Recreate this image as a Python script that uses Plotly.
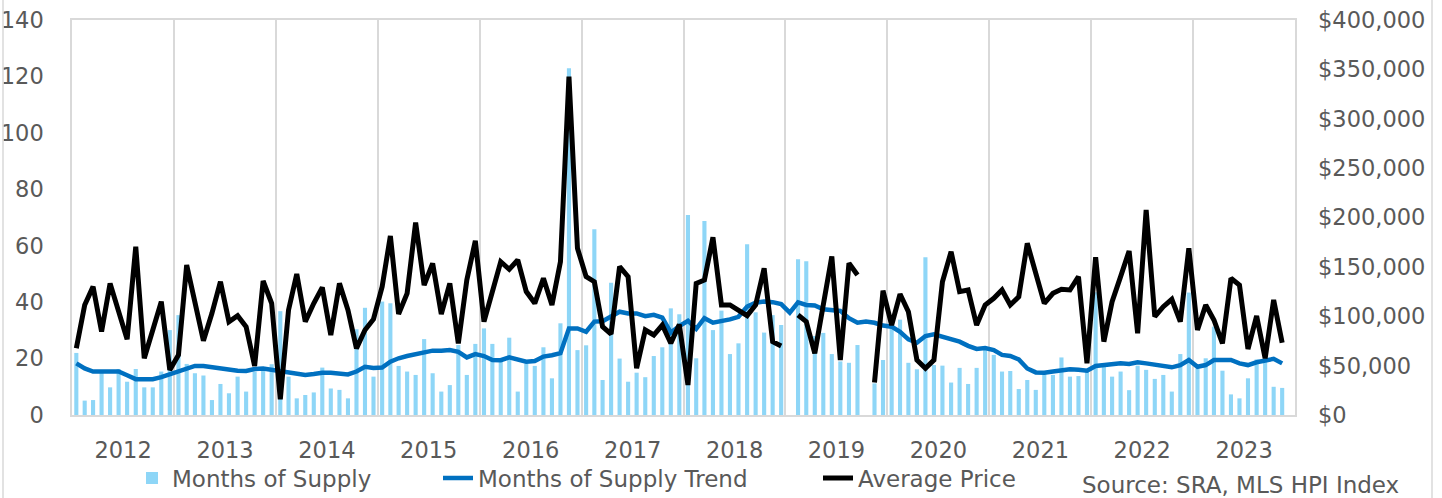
import plotly.graph_objects as go

# Monthly categories Jan 2012 .. Dec 2023
months = [f"{y}-{m:02d}-01" for y in range(2012, 2024) for m in range(1, 13)]

months_of_supply = [
    22, 5.1, 5.3, 15, 9.8, 16.3, 11.8, 16.3, 9.8, 9.8, 15.4, 30.1,
    35.4, 18.1, 14.8, 14, 5.3, 11, 7.7, 13.6, 8.3, 15.4, 16, 18,
    36.8, 13.6, 5.9, 7.1, 8.0, 16.8, 9.4, 8.9, 5.9, 30.4, 38.0, 13.6,
    40.2, 39.6, 17.4, 15.4, 14.2, 26.9, 14.8, 8.3, 10.6, 24.8, 14.2, 25.2,
    30.7, 25.2, 19, 27.4, 8.3, 18.3, 17.4, 24, 13, 32.5, 122.9, 23,
    24.7, 65.8, 12.4, 46.9, 20, 11.8, 15, 13.4, 20.9, 24, 37.8, 35.7,
    70.9, 20.1, 68.8, 30.1, 37, 21.6, 25.4, 60.5, 36.4, 29.2, 35.4, 31.9,
    None, 55.2, 54.5, 28, 29.1, 21.6, 19, 18.5, 24.8, None, 11.2, 19.5,
    33.8, 33.8, 18.5, 16.2, 55.9, 17.7, 17.5, 11.5, 16.7, 11, 16.7, 23.6,
    21.3, 15.4, 15.6, 9.2, 12.4, 8.9, 14.8, 14.2, 20.4, 13.6, 13.8, 16,
    43.5, 17.1, 13.6, 15.4, 8.8, 17.5, 16, 12.8, 14.2, 8.3, 21.6, 43.4,
    16.5, 20.1, 31.3, 15.7, 7.3, 5.9, 13, 19.7, 20, 10, 9.6, None,
]

supply_trend = [
    18.3, 16.5, 15.4, 15.4, 15.2, 15.4, 14.1, 12.7, 12.7, 12.7, 13.4, 14.4,
    15.6, 16.8, 17.4, 17.4, 16.9, 16.4, 16, 15.7, 15.6, 16.3, 16.5, 16,
    15.7, 15, 14.4, 14.2, 14.5, 15, 15, 14.5, 14.4, 15.4, 17.1, 16.7,
    16.8, 18.9, 20.1, 20.9, 21.5, 22.4, 22.8, 22.8, 23, 22.4, 20.4, 21.6,
    20.9, 19.5, 19.4, 20.4, 19.6, 18.9, 19.1, 20.7, 21.2, 21.9, 30.7, 30.7,
    29.5, 33.1, 33.2, 34.8, 36.6, 36, 36, 35, 35.5, 34.5, 29.2, 31.5,
    33.4, 30.5, 34.3, 32.7, 33.1, 33.9, 34.8, 38.4, 39.8, 40.2, 40, 39.3,
    36.3, 39.9, 39, 38.8, 37.5, 37.2, 36.9, 34.3, 32.7, 33.1, 32.7, 31.7,
    31.3, 29.5, 26.8, 25.6, 28, 28.6, 27.8, 27.2, 26, 24.5, 23.4, 23.7,
    23, 21.3, 20.9, 19.7, 16.5, 15.1, 15, 15.4, 16, 16.2, 16, 15.7,
    17.4, 17.7, 17.7, 18.3, 18.1, 18.7, 18.3, 17.7, 17.4, 16.9, 17.7, 19.5,
    17.1, 17.7, 19.5, 19.7, 19.5, 18.3, 17.7, 18.7, 19.5, 19.9, 18.3, None,
]

average_price = [
    67500, 111400, 130000, 84400, 133300, 106300, 76600, 170500, 57400, 86100, 114800, 45600,
    60800, 151900, 113100, 75300, 103000, 135000, 94500, 100600, 89400, 49600, 135700, 113100,
    15900, 106300, 142800, 94500, 113100, 129300, 81000, 133300, 106300, 67500, 86100, 97000,
    130000, 181300, 102300, 123200, 194800, 131600, 153600, 102300, 133300, 72600, 136700, 176500,
    94500, 124900, 155200, 147500, 157000, 125000, 113100, 138400, 111400, 155200, 342600, 168800,
    140100, 135000, 89400, 82000, 150200, 140100, 47300, 86100, 81000, 91100, 72600, 91600,
    30400, 133300, 136700, 179900, 111400, 111400, 106300, 100600, 111400, 148500, 74300, 69900,
    None, 101300, 94500, 62500, 113100, 160600, 55700, 153600, 141800, None, 33000, 125900,
    91100, 122500, 104600, 55700, 47300, 55700, 135000, 165400, 124900, 126600, 91100, 111400,
    118200, 126600, 111400, 119800, 173900, 143500, 113100, 123200, 127300, 126600, 140100, 52400,
    159700, 74300, 114800, 140100, 166100, 82700, 207600, 99600, 109700, 117200, 94500, 168800,
    86100, 111400, 96200, 72600, 138400, 131600, 66800, 100300, 57400, 116500, 73200, None,
]

FONT = "DejaVu Sans"
GREY = "#595959"
GRID = "#d9d9d9"
TICK_SIZE = 22.5
TEXT_SIZE = 23

fig = go.Figure()
fig.add_trace(go.Bar(
    x=months, y=months_of_supply, name="Months of Supply",
    marker=dict(color="#8ED6F7", line=dict(width=0)),
    xperiod="M1", xperiodalignment="middle", legend="legend",
))
fig.add_trace(go.Scatter(
    x=months, y=supply_trend, name="Months of Supply Trend", mode="lines",
    line=dict(color="#0070C0", width=4.5),
    xperiod="M1", xperiodalignment="middle", legend="legend2",
))
fig.add_trace(go.Scatter(
    x=months, y=average_price, name="Average Price", mode="lines",
    line=dict(color="#000000", width=5), connectgaps=False,
    xperiod="M1", xperiodalignment="middle", yaxis="y2", legend="legend3",
))

L, R, T, B = 72, 147, 20, 83
W, H = 1442, 498
pw, ph = W - L - R, H - T - B

def px_x(p):
    return (p - L) / pw

def px_y(p):
    return (H - B - p) / ph

legend_common = dict(orientation="h", yanchor="middle", xanchor="left",
                     font=dict(family=FONT, size=TEXT_SIZE, color=GREY),
                     bgcolor="rgba(0,0,0,0)", y=px_y(478))

fig.update_layout(
    width=W, height=H,
    margin=dict(l=L, r=R, t=T, b=B, autoexpand=False),
    paper_bgcolor="white", plot_bgcolor="white",
    font=dict(family=FONT, size=TICK_SIZE, color=GREY),
    bargap=0.5,
    xaxis=dict(
        type="date", range=["2012-01-01", "2024-01-01"],
        dtick="M12", tick0="2012-01-01", ticklabelmode="period", tickformat="%Y",
        showgrid=True, gridcolor=GRID, gridwidth=1.5,
        showline=True, linecolor=GRID, linewidth=1.5, mirror=True,
        ticks="", ticklabelstandoff=14, automargin=False,
        tickfont=dict(family=FONT, size=TICK_SIZE, color=GREY),
    ),
    yaxis=dict(
        range=[0, 140], dtick=20, showgrid=False, zeroline=False,
        showline=True, linecolor=GRID, linewidth=1.5, mirror=True,
        ticks="", ticklabelstandoff=22, automargin=False,
        tickfont=dict(family=FONT, size=TICK_SIZE, color=GREY),
    ),
    yaxis2=dict(
        range=[0, 400000], dtick=50000, overlaying="y", side="right",
        showgrid=False, zeroline=False, tickformat="$,.0f",
        ticks="", ticklabelstandoff=22, automargin=False,
        tickfont=dict(family=FONT, size=TICK_SIZE, color=GREY),
    ),
    legend=dict(x=px_x(132), **legend_common),
    legend2=dict(x=px_x(438), **legend_common),
    legend3=dict(x=px_x(818), **legend_common),
    showlegend=True,
)

fig.add_annotation(
    text="Source: SRA, MLS HPI Index", xref="paper", yref="paper",
    x=px_x(1401), y=px_y(485), xanchor="right", yanchor="middle",
    showarrow=False, font=dict(family=FONT, size=TEXT_SIZE, color=GREY),
)

# outer chart border (left and right edges visible in the reference)
for xp in (3, 1432):
    fig.add_shape(type="line", xref="paper", yref="paper",
                  x0=px_x(xp), x1=px_x(xp), y0=px_y(-5), y1=px_y(503),
                  line=dict(color=GRID, width=1.5))

fig.write_html(
    "out.html",
    config={"displayModeBar": False},
    post_script="document.body.style.margin='0';document.body.style.overflow='hidden';",
)
